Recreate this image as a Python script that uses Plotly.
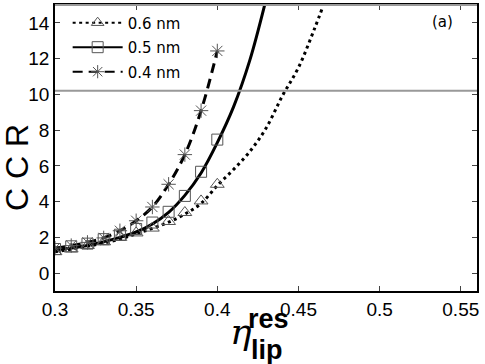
import plotly.graph_objects as go

# eta values where markers sit
eta_pts = [0.30, 0.31, 0.32, 0.33, 0.34, 0.35, 0.36, 0.37, 0.38, 0.39, 0.40]
ccr_06 = [1.2, 1.35, 1.55, 1.75, 2.0, 2.25, 2.52, 2.89, 3.39, 4.04, 4.97]
ccr_05 = [1.35, 1.5, 1.65, 1.9, 2.15, 2.47, 2.83, 3.43, 4.32, 5.67, 7.47]
ccr_04 = [1.4, 1.54, 1.72, 1.97, 2.37, 2.93, 3.7, 4.97, 6.63, 9.09, 12.43]

# fitted curves
eta_fit06 = [0.30, 0.32, 0.34, 0.35, 0.36, 0.37, 0.38, 0.39, 0.40, 0.41, 0.42, 0.43, 0.44, 0.45, 0.46, 0.465]
fit06 = [1.2, 1.5, 1.9, 2.2, 2.5, 2.85, 3.3, 3.9, 4.9, 5.8, 6.8, 8.1, 9.9, 11.5, 13.7, 14.9]
eta_fit05 = [0.30, 0.32, 0.34, 0.35, 0.36, 0.37, 0.38, 0.39, 0.40, 0.41, 0.42, 0.43]
fit05 = [1.3, 1.55, 2.0, 2.3, 2.75, 3.4, 4.35, 5.6, 7.3, 9.3, 11.9, 15.3]

threshold = 10.2
labels = ['0.6 nm', '0.5 nm', '0.4 nm']
xticks = [0.3, 0.35, 0.4, 0.45, 0.5, 0.55]
xtick_text = ['0.3', '0.35', '0.4', '0.45', '0.5', '0.55']
yticks = [0, 2, 4, 6, 8, 10, 12, 14]

mk_col = '#555555'
fig = go.Figure()

# curves
fig.add_trace(go.Scatter(x=eta_fit06, y=fit06, mode='lines', line_shape='spline',
                         line=dict(color='black', width=3, dash='3px,3.5px'), showlegend=False))
fig.add_trace(go.Scatter(x=eta_fit05, y=fit05, mode='lines', line_shape='spline',
                         line=dict(color='black', width=3), showlegend=False))
fig.add_trace(go.Scatter(x=eta_pts, y=ccr_04, mode='lines', line_shape='spline',
                         line=dict(color='black', width=3, dash='10px,6px'), showlegend=False))

# markers
fig.add_trace(go.Scatter(x=eta_pts, y=ccr_06, mode='markers', showlegend=False,
                         marker=dict(symbol='triangle-up-open', size=12, color=mk_col, line=dict(width=1))))
fig.add_trace(go.Scatter(x=eta_pts, y=ccr_05, mode='markers', showlegend=False,
                         marker=dict(symbol='square-open', size=11, color=mk_col, line=dict(width=1))))
fig.add_trace(go.Scatter(x=eta_pts, y=ccr_04, mode='markers', showlegend=False,
                         marker=dict(symbol='asterisk-open', size=12, color=mk_col, line=dict(width=1))))

# legend entries
styles = [('3px,3.5px', 'triangle-up-open'), ('solid', 'square-open'), ('10px,6px', 'asterisk-open')]
for i, (lab, (dash, sym)) in enumerate(zip(labels, styles)):
    fig.add_trace(go.Scatter(x=[None], y=[None], mode='lines+markers', name=lab, legendgroup=str(i),
                             line=dict(color='black', width=2, dash=dash),
                             marker=dict(symbol=sym, size=11, color=mk_col, line=dict(width=1))))

fig.add_shape(type='line', xref='paper', x0=0, x1=1, yref='y', y0=threshold, y1=threshold,
              line=dict(color='#999999', width=2))
fig.add_shape(type='line', xref='paper', x0=0, x1=1, yref='paper', y0=1, y1=1,
              line=dict(color='#999999', width=2))

axis_font = dict(family='Liberation Sans, Arial', size=19, color='black')
lab_font = dict(family='Liberation Sans, Arial', size=27, color='black')
fig.update_layout(
    width=485, height=364,
    margin=dict(l=55, r=8, t=3, b=73),
    plot_bgcolor='white', paper_bgcolor='white',
    xaxis=dict(range=[0.3, 0.56], tickvals=xticks, ticktext=xtick_text, ticks='inside', ticklen=5,
               showline=True, linecolor='black', linewidth=1.5, mirror='ticks', showgrid=False,
               zeroline=False, tickfont=axis_font),
    yaxis=dict(range=[-1, 15], tickvals=yticks, ticks='inside', ticklen=5,
               showline=True, linecolor='black', linewidth=1.5, mirror='ticks', showgrid=False,
               zeroline=False, tickfont=axis_font),
    legend=dict(x=0.03, y=0.995, xanchor='left', yanchor='top', bgcolor='rgba(0,0,0,0)',
                font=dict(family='DejaVu Sans', size=15, color='black'), tracegroupgap=2,
                itemwidth=50),
    annotations=[
        dict(text='C C R', xref='paper', yref='paper', x=-0.09, y=0.43, textangle=-90,
             xanchor='center', yanchor='middle', showarrow=False,
             font=dict(family='Liberation Sans, Arial', size=32, color='black')),
        dict(text='<i>η</i>', xref='paper', yref='paper', x=0.441, y=-0.14,
             xanchor='center', yanchor='middle', showarrow=False,
             font=dict(family='DejaVu Serif', size=36, color='black')),
        dict(text='<b>res</b>', xref='paper', yref='paper', x=0.507, y=-0.097,
             xanchor='center', yanchor='middle', showarrow=False, font=lab_font),
        dict(text='<b>lip</b>', xref='paper', yref='paper', x=0.502, y=-0.205,
             xanchor='center', yanchor='middle', showarrow=False, font=lab_font),
        dict(text='(a)', xref='paper', yref='paper', x=0.919, y=0.941,
             xanchor='center', yanchor='middle', showarrow=False,
             font=dict(family='DejaVu Sans', size=15, color='black')),
    ],
)

fig.write_html("out.html", config={'displayModeBar': False},
               post_script="document.body.style.margin='0';document.body.style.overflow='hidden';")
